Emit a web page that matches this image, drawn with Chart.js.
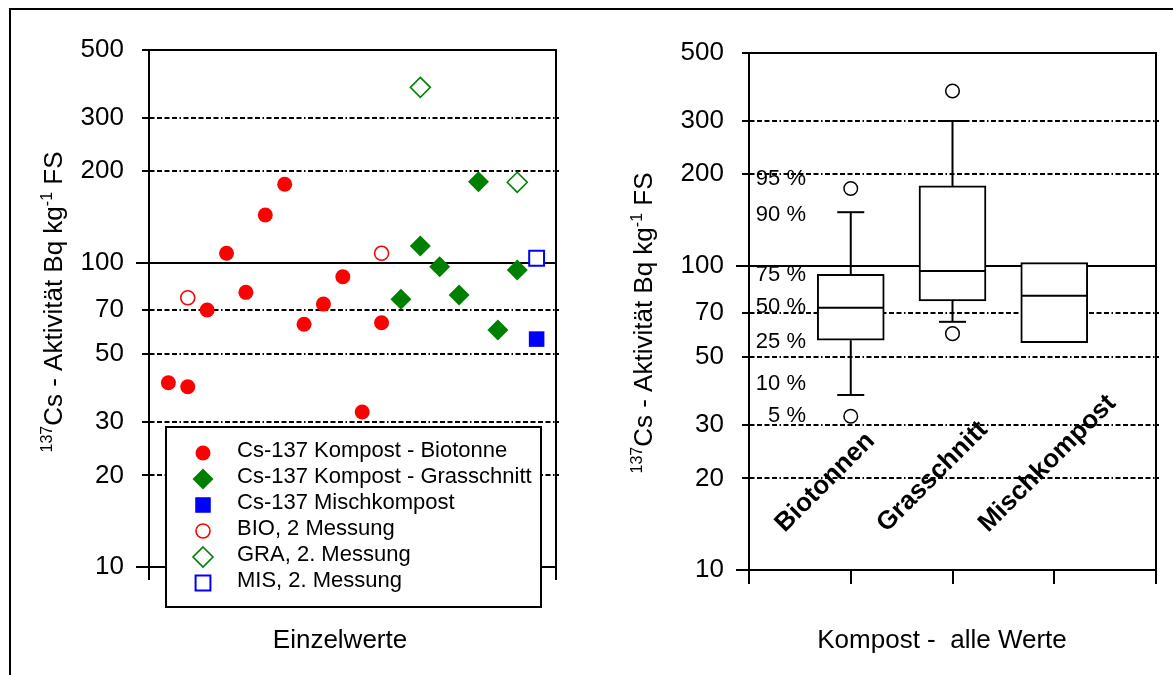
<!DOCTYPE html>
<html>
<head>
<meta charset="utf-8">
<script src="https://cdn.jsdelivr.net/npm/chart.js@4.4.1/dist/chart.umd.min.js"></script>
<style>
html,body{margin:0;padding:0;background:#fff;width:1173px;height:675px;overflow:hidden;}
#frame{position:absolute;left:9px;top:8px;width:1200px;height:700px;border-left:2px solid #000;border-top:2px solid #000;}
#c1{position:absolute;left:0;top:0;}
#c2{position:absolute;left:590px;top:0;}
</style>
</head>
<body>
<div id="frame"></div>
<canvas id="c1" width="590" height="675"></canvas>
<canvas id="c2" width="583" height="675"></canvas>
<script>
// ---------- data ----------
const yTickValues = [10, 20, 30, 50, 70, 100, 200, 300, 500];
const solidLines = [10, 100];
const dashedLines = [20, 30, 50, 70, 200, 300];

const bioPos  = [1, 2, 3, 4, 5, 6, 7, 8, 9, 10, 11, 12];
const bioVals = [40.3, 39.1, 69.9, 107.4, 79.9, 143.5, 181, 62.8, 73.1, 89.9, 32.3, 63.5];
const graPos  = [13, 14, 15, 16, 17, 18, 19];
const graVals = [75.8, 113.5, 97.0, 78.3, 184.6, 60.1, 94.6];
const misPos  = [20];
const misVals = [56.1];
const bio2Pos  = [2, 12];
const bio2Vals = [76.7, 107.4];
const gra2Pos  = [14, 19];
const gra2Vals = [377, 183.8];
const mis2Pos  = [20];
const mis2Vals = [103.4];

const legendLabels = [
  'Cs-137 Kompost - Biotonne',
  'Cs-137 Kompost - Grasschnitt',
  'Cs-137 Mischkompost',
  'BIO, 2 Messung',
  'GRA, 2. Messung',
  'MIS, 2. Messung'
];

const categories  = ['Biotonnen', 'Grasschnitt', 'Mischkompost'];
const xTickValues = [0, 1, 2, 3, 4];
const boxQ1       = [56.9, 76.6, 55.9];
const boxMedian   = [72.7, 96.1, 79.6];
const boxQ3       = [93.6, 182.9, 102.4];
const whiskerLow  = [37.6, 65.4, null];
const whiskerHigh = [149.9, 298.9, null];
const outlierCat  = [1, 1, 2, 2];
const outlierVals = [179.3, 32.0, 375, 59.8];

const pctLabels    = ['95 %', '90 %', '75 %', '50 %', '25 %', '10 %', '5 %'];
const pctLabelVals = [195.7, 148.8, 94.5, 74.2, 56.9, 41.5, 32.5];

const titleLeftX = 'Einzelwerte';
const titleRightX = 'Kompost -  alle Werte';
const yTitleParts = [
  {t: '137', sup: true},
  {t: 'Cs - Aktivität Bq kg', sup: false},
  {t: '-1', sup: true},
  {t: ' FS', sup: false}
];

// ---------- styling ----------
const FONT = "'Liberation Sans', Arial, sans-serif";
const RED = '#ff0000', GREEN = '#008000', BLUE = '#0000ff';
const DASH = [5, 2.5, 5, 2.5, 5, 2.5, 5, 2.5, 5, 2.5, 1.5, 2.5];

function pts(xs, ys) { return xs.map((x, i) => ({x: x, y: ys[i]})); }

function line(ctx, x1, y1, x2, y2) {
  ctx.beginPath(); ctx.moveTo(x1, y1); ctx.lineTo(x2, y2); ctx.stroke();
}

function marker(ctx, ds, x, y) {
  const r = ds.pointRadius, st = ds.pointStyle;
  ctx.save();
  ctx.beginPath();
  if (st === 'circle') ctx.arc(x, y, r, 0, Math.PI * 2);
  else if (st === 'rectRot') { ctx.moveTo(x, y - r); ctx.lineTo(x + r, y); ctx.lineTo(x, y + r); ctx.lineTo(x - r, y); ctx.closePath(); }
  else { const s = r * Math.SQRT1_2; ctx.rect(x - s, y - s, 2 * s, 2 * s); }
  ctx.fillStyle = ds.pointBackgroundColor; ctx.fill();
  if (ds.pointBorderWidth > 0) { ctx.lineWidth = ds.pointBorderWidth; ctx.strokeStyle = ds.pointBorderColor; ctx.stroke(); }
  ctx.restore();
}

function drawYTitle(ctx, cx, cy) {
  ctx.save();
  ctx.translate(cx, cy);
  ctx.rotate(-Math.PI / 2);
  ctx.fillStyle = '#000';
  ctx.textBaseline = 'alphabetic';
  ctx.textAlign = 'left';
  const big = '26px ' + FONT, small = '16px ' + FONT;
  let total = 0;
  yTitleParts.forEach(p => { ctx.font = p.sup ? small : big; total += ctx.measureText(p.t).width; });
  let x = -total / 2;
  yTitleParts.forEach(p => {
    ctx.font = p.sup ? small : big;
    ctx.fillText(p.t, x, p.sup ? -10 : 0);
    x += ctx.measureText(p.t).width;
  });
  ctx.restore();
}

const framePlugin = {
  id: 'frame',
  beforeDatasetsDraw(chart, args, o) {
    const ctx = chart.ctx, ys = chart.scales.y, xs = chart.scales.x, a = chart.chartArea;
    ctx.save();
    ctx.strokeStyle = '#000';
    ctx.lineWidth = 2;
    ctx.setLineDash(DASH);
    dashedLines.forEach(v => { const py = Math.round(ys.getPixelForValue(v)); line(ctx, a.left - 7, py, a.right + 3, py); });
    ctx.setLineDash([]);
    dashedLines.forEach(v => { const py = Math.round(ys.getPixelForValue(v)); line(ctx, a.left - 7, py, a.left, py); });
    solidLines.forEach(v => { const py = Math.round(ys.getPixelForValue(v)); line(ctx, a.left - 13, py, a.right, py); });
    const top = Math.round(ys.getPixelForValue(500));
    line(ctx, a.left - 7, top, a.right, top);
    line(ctx, a.left, a.top - 1, a.left, a.bottom + o.ext);
    line(ctx, a.right, a.top - 1, a.right, a.bottom + o.ext);
    if (o.xTicks) o.xTicks.forEach(v => { const px = Math.round(xs.getPixelForValue(v)); line(ctx, px, a.bottom, px, a.bottom + o.ext); });
    ctx.restore();
  },
  afterDraw(chart, args, o) {
    const ctx = chart.ctx, ys = chart.scales.y, xs = chart.scales.x, a = chart.chartArea;
    ctx.save();
    ctx.fillStyle = '#000';
    // legend
    if (o.legend) {
      const L = o.legend;
      ctx.fillStyle = '#fff';
      ctx.fillRect(L.x, L.y, L.w, L.h);
      ctx.strokeStyle = '#000'; ctx.lineWidth = 2;
      ctx.strokeRect(L.x, L.y, L.w, L.h);
      ctx.font = '22px ' + FONT;
      ctx.textAlign = 'left'; ctx.textBaseline = 'alphabetic';
      chart.data.datasets.forEach((ds, i) => {
        const base = L.y + 30 + i * 26;
        marker(ctx, ds, L.x + 37, base - 4);
        ctx.fillStyle = '#000';
        ctx.fillText(ds.label, L.x + 71, base);
      });
    }
    // category labels
    if (o.cats) {
      ctx.font = 'bold 26px ' + FONT;
      ctx.textAlign = 'left'; ctx.textBaseline = 'alphabetic';
      categories.forEach((c, i) => {
        const px = xs.getPixelForValue(i + 1) - 66, py = a.bottom - 37;
        ctx.save(); ctx.translate(px, py); ctx.rotate(-Math.PI / 4);
        ctx.fillText(c, 0, 0); ctx.restore();
      });
    }
    // percentile legend
    if (o.pct) {
      ctx.font = '22px ' + FONT;
      ctx.textAlign = 'right'; ctx.textBaseline = 'alphabetic';
      pctLabels.forEach((t, i) => ctx.fillText(t, a.left + 57, ys.getPixelForValue(pctLabelVals[i]) + 8));
    }
    // x title
    ctx.font = '26px ' + FONT;
    ctx.textAlign = 'center'; ctx.textBaseline = 'alphabetic';
    ctx.fillText(o.xTitle, o.xTitleX, 648);
    ctx.restore();
    drawYTitle(ctx, o.yTitleX, o.yTitleY);
  }
};

function yScale(width) {
  return {
    type: 'logarithmic', min: 10, max: 500,
    afterFit(s) { s.width = width; },
    afterBuildTicks(s) { s.ticks = yTickValues.map(v => ({value: v})); },
    grid: {display: false, drawTicks: false},
    border: {display: false},
    ticks: {font: {family: FONT, size: 26}, color: '#000', padding: 25, autoSkip: false, callback: v => String(v)}
  };
}

// ---------- left chart ----------
new Chart(document.getElementById('c1'), {
  type: 'scatter',
  plugins: [framePlugin],
  data: {
    datasets: [
      {label: legendLabels[0], data: pts(bioPos, bioVals), pointStyle: 'circle', pointRadius: 7.5, pointBackgroundColor: RED, pointBorderColor: RED, pointBorderWidth: 0},
      {label: legendLabels[1], data: pts(graPos, graVals), pointStyle: 'rectRot', pointRadius: 10.5, pointBackgroundColor: GREEN, pointBorderColor: GREEN, pointBorderWidth: 0},
      {label: legendLabels[2], data: pts(misPos, misVals), pointStyle: 'rect', pointRadius: 11, pointBackgroundColor: BLUE, pointBorderColor: BLUE, pointBorderWidth: 0},
      {label: legendLabels[3], data: pts(bio2Pos, bio2Vals), pointStyle: 'circle', pointRadius: 7, pointBackgroundColor: '#fff', pointBorderColor: RED, pointBorderWidth: 1.6},
      {label: legendLabels[4], data: pts(gra2Pos, gra2Vals), pointStyle: 'rectRot', pointRadius: 10, pointBackgroundColor: '#fff', pointBorderColor: GREEN, pointBorderWidth: 1.6},
      {label: legendLabels[5], data: pts(mis2Pos, mis2Vals), pointStyle: 'rect', pointRadius: 10.5, pointBackgroundColor: '#fff', pointBorderColor: BLUE, pointBorderWidth: 2}
    ]
  },
  options: {
    responsive: false, animation: false, events: [],
    layout: {autoPadding: false, padding: {left: 0, right: 590 - 556, top: 50, bottom: 675 - 567}},
    plugins: {
      legend: {display: false}, tooltip: {enabled: false},
      frame: {ext: 13, legend: {x: 166, y: 427, w: 375, h: 180}, xTitle: titleLeftX, xTitleX: 340, yTitleX: 62, yTitleY: 302}
    },
    scales: {
      x: {type: 'linear', min: 0, max: 21, display: false},
      y: yScale(149)
    }
  }
});

// ---------- right chart ----------
const stemData = [];
categories.forEach((c, i) => {
  if (whiskerHigh[i] !== null) stemData.push({x: i + 1, y: boxQ3[i]}, {x: i + 1, y: whiskerHigh[i]}, {x: i + 1, y: null});
  if (whiskerLow[i] !== null) stemData.push({x: i + 1, y: boxQ1[i]}, {x: i + 1, y: whiskerLow[i]}, {x: i + 1, y: null});
});
const capData = [];
categories.forEach((c, i) => {
  if (whiskerHigh[i] !== null) capData.push({x: i + 1, y: whiskerHigh[i]});
  if (whiskerLow[i] !== null) capData.push({x: i + 1, y: whiskerLow[i]});
});

new Chart(document.getElementById('c2'), {
  type: 'scatter',
  plugins: [framePlugin],
  data: {
    datasets: [
      {type: 'bar', order: 5, data: categories.map((c, i) => ({x: i + 1, y: [boxQ1[i], boxQ3[i]]})),
       backgroundColor: '#fff', borderColor: '#000', borderWidth: 2, borderSkipped: false, barThickness: 67},
      {type: 'line', order: 4, data: stemData, borderColor: '#000', borderWidth: 2, pointRadius: 0, spanGaps: false, fill: false},
      {order: 1, data: categories.map((c, i) => ({x: i + 1, y: boxMedian[i]})), pointStyle: 'line', pointRadius: 33, pointBorderColor: '#000', pointBorderWidth: 2},
      {order: 2, data: capData, pointStyle: 'line', pointRadius: 13.5, pointBorderColor: '#000', pointBorderWidth: 2},
      {order: 3, data: pts(outlierCat, outlierVals), pointStyle: 'circle', pointRadius: 6.8, pointBackgroundColor: '#fff', pointBorderColor: '#000', pointBorderWidth: 1.5}
    ]
  },
  options: {
    responsive: false, animation: false, events: [],
    layout: {autoPadding: false, padding: {left: 0, right: 583 - 566, top: 53, bottom: 675 - 570}},
    plugins: {
      legend: {display: false}, tooltip: {enabled: false},
      frame: {ext: 14, xTicks: xTickValues, cats: true, pct: true, xTitle: titleRightX, xTitleX: 352, yTitleX: 62, yTitleY: 323}
    },
    scales: {
      x: {type: 'linear', min: 0, max: 4, display: false, offset: false},
      y: yScale(159)
    }
  }
});
</script>
</body>
</html>
